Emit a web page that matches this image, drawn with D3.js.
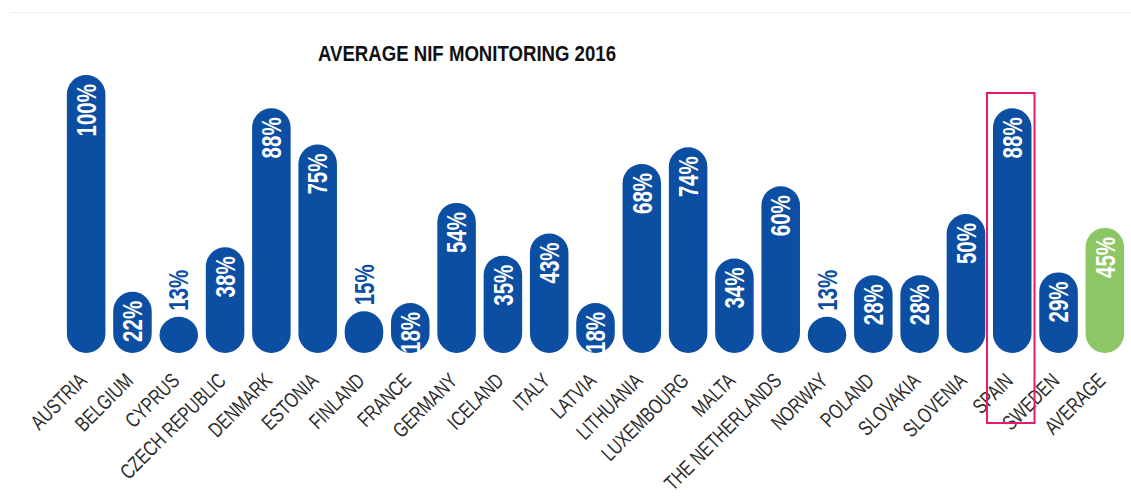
<!DOCTYPE html>
<html>
<head>
<meta charset="utf-8">
<script src="https://cdn.jsdelivr.net/npm/d3@7"></script>
<style>
  body { margin: 0; background: #fff; }
  svg { display: block; }
</style>
</head>
<body>
<svg id="chart" width="1131" height="497"></svg>
<script>
const categories = [
  "AUSTRIA", "BELGIUM", "CYPRUS", "CZECH REPUBLIC", "DENMARK", "ESTONIA",
  "FINLAND", "FRANCE", "GERMANY", "ICELAND", "ITALY", "LATVIA", "LITHUANIA",
  "LUXEMBOURG", "MALTA", "THE NETHERLANDS", "NORWAY", "POLAND", "SLOVAKIA",
  "SLOVENIA", "SPAIN", "SWEDEN", "AVERAGE"
];
const values = [100, 22, 13, 38, 88, 75, 15, 18, 54, 35, 43, 18, 68, 74, 34, 60, 13, 28, 28, 50, 88, 29, 45];
const averageKey = "AVERAGE";
const highlightKey = "SPAIN";
const title = "AVERAGE NIF MONITORING 2016";

const blue = "#0b4ea2";
const green = "#8cc665";
const pink = "#e8196b";

const svg = d3.select("#chart");
const width = 1131;
const base = 353;

// top hairline
svg.append("line")
  .attr("x1", 10).attr("x2", width)
  .attr("y1", 12.5).attr("y2", 12.5)
  .attr("stroke", "#eeeeee");

// scales
const x = d3.scaleBand()
  .domain(categories)
  .range([63, 1128])
  .paddingInner(0.168)
  .paddingOuter(0.084);

const y = d3.scaleLinear()
  .domain([0, 100])
  .range([base, 75]);

const data = categories.map((c, i) => ({ name: c, value: values[i] }));
const bw = x.bandwidth();

// title (squeezed to look condensed)
svg.append("text")
  .attr("x", 318).attr("y", 61)
  .attr("font-family", "'Liberation Sans', Arial, sans-serif")
  .attr("font-weight", "bold")
  .attr("font-size", 22)
  .attr("textLength", 298)
  .attr("lengthAdjust", "spacingAndGlyphs")
  .attr("fill", "#111")
  .text(title);

// pill bars
svg.append("g")
  .selectAll("rect")
  .data(data)
  .join("rect")
  .attr("x", (d) => x(d.name))
  .attr("y", (d) => y(d.value))
  .attr("width", bw)
  .attr("height", (d) => base - y(d.value))
  .attr("rx", bw / 2)
  .attr("ry", bw / 2)
  .attr("fill", (d) => (d.name === averageKey ? green : blue));

// value labels
const squeeze = 0.76;
const labels = svg.append("g")
  .selectAll("text")
  .data(data)
  .join("text")
  .attr("font-family", "'Liberation Sans', Arial, sans-serif")
  .attr("font-weight", "bold")
  .attr("font-size", 27)
  .attr("dy", "0.36em")
  .text((d) => d.value + "%");

labels.each(function (d) {
  const len = this.getComputedTextLength() * squeeze;
  const cx = x(d.name) + bw / 2;
  const top = y(d.value);
  const inside = len + 6 < base - top;
  d3.select(this)
    .attr("text-anchor", inside ? "end" : "start")
    .attr("fill", inside ? "#fff" : blue)
    .attr("transform",
      `translate(${cx}, ${inside ? top + 9 : top - 6}) rotate(-90) scale(${squeeze},1)`);
});

// category labels
svg.append("g")
  .selectAll("text")
  .data(categories)
  .join("text")
  .attr("font-family", "'Liberation Sans', Arial, sans-serif")
  .attr("font-size", 21)
  .attr("fill", "#2b2b2b")
  .attr("text-anchor", "end")
  .attr("transform", (d) => `translate(${x(d) + bw / 2 + 2}, 382) rotate(-45) scale(0.76,1)`)
  .text((d) => d);

// highlight box around Spain
svg.append("rect")
  .attr("x", x(highlightKey) - 6)
  .attr("y", 93)
  .attr("width", bw + 9)
  .attr("height", 330)
  .attr("fill", "none")
  .attr("stroke", pink)
  .attr("stroke-width", 2);
</script>
</body>
</html>
